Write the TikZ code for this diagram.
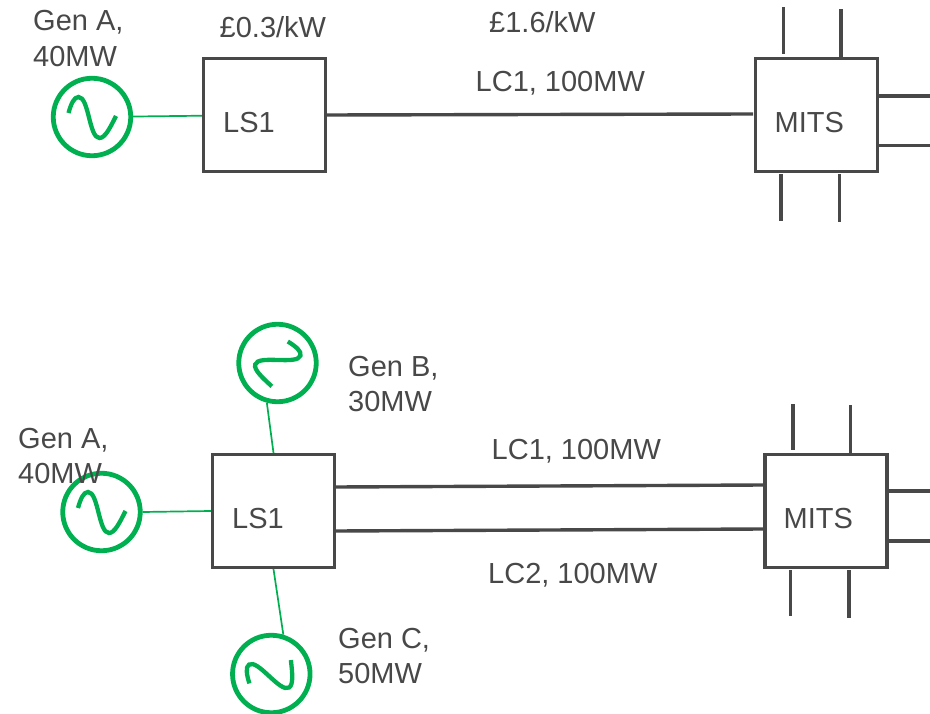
\documentclass[tikz,border=0pt]{standalone}
\usepackage{fontspec}
\usetikzlibrary{calc}
\setmainfont{Liberation Sans}
\definecolor{ink}{HTML}{484848}
\definecolor{gengreen}{HTML}{00B050}
\tikzset{
  x=1pt,y=-1pt,
  lbl/.style={text=ink,inner sep=0pt,anchor=base west,font=\fontsize{29}{35.5}\selectfont},
  lblb/.style={text=ink,inner sep=0pt,anchor=north west,align=left,font=\fontsize{29}{35.5}\selectfont},
  busbox/.style={draw=ink,line width=3.2pt,rectangle,minimum width=122pt,minimum height=113pt,inner sep=0pt},
  gencircle/.style={draw=gengreen,line width=4.8pt,circle,minimum size=77.5pt,inner sep=0pt},
  feeder/.style={draw=gengreen,line width=1.7pt},
  bus/.style={draw=ink,line width=3.4pt},
  sinewave/.pic={
    \draw[gengreen,line width=4.3pt] (-23.5,-4) .. controls (-21,-13) and (-18,-20) .. (-13.5,-20)
      .. controls (-3,-20) and (-3,21) .. (7.5,21)
      .. controls (13,21) and (18,11) .. (24,-1);
  }
}
\begin{document}
\begin{tikzpicture}
\useasboundingbox[fill=white] (0,0) rectangle (930,714);
% top system
\node[gencircle] (ga) at (92,117) {};
\pic at (ga.center) {sinewave};
\node[busbox] (lsa) at (264.5,115) {};
\node[busbox] (ma) at (816.5,115) {};
\draw[feeder] (ga) -- (lsa);
\coordinate (lcaend) at (753,114);
\draw[bus] (lsa.east) -- (lcaend);
\draw[bus] (ma.north) ++(-33,-3) -- ++(0,-47);
\draw[bus] (ma.north) ++(24.5,0) -- ++(0,-48);
\draw[bus] (ma.east) ++(0,-19) -- (930,96);
\draw[bus] (ma.east) ++(0,30.5) -- (930,145.5);
\draw[bus] (ma.south) ++(-35.5,1) -- ++(0,47);
\draw[bus] (ma.south) ++(23,1) -- ++(0,48);
\node[lblb] (tga) at (33,10.5) {Gen A,\\40MW};
\node[lbl] (tpa) at (219.5,38) {£0.3/kW};
\node[lbl] (tpb) at (489,32.5) {£1.6/kW};
\node[lbl] (tlca) at (475.5,91.5) {LC1, 100MW};
\node[lbl] (tlsa) at (223,132.5) {LS1};
\node[lbl] (tma) at (774.5,132.5) {MITS};
% bottom system
\node[gencircle] (gb) at (101.5,512) {};
\pic at (gb.center) {sinewave};
\node[gencircle] (gc) at (277.5,363) {};
\pic[rotate=-106] at (gc.center) {sinewave};
\node[gencircle] (gd) at (271.3,674) {};
\pic[rotate=33] at (gd.center) {sinewave};
\node[busbox] (lsb) at (273.5,511) {};
\node[busbox] (mb) at (826,511) {};
\draw[feeder] (gb.east) -- (lsb.west);
\draw[feeder] (gc.-105) -- (lsb.north);
\draw[feeder] (gd.73) -- (lsb.south);
\draw[bus] (lsb.east) ++(0,-24) -- ($(mb.west)+(0,-26)$);
\draw[bus] (lsb.east) ++(0,20) -- ($(mb.west)+(0,18)$);
\draw[bus] (mb.north) ++(-33,-3) -- ++(0,-46);
\draw[bus] (mb.north) ++(24.5,0) -- ++(0,-48);
\draw[bus] (mb.east) ++(0,-20) -- (930,491);
\draw[bus] (mb.east) ++(0,30) -- (930,541);
\draw[bus] (mb.south) ++(-35.5,1) -- ++(0,46);
\draw[bus] (mb.south) ++(23,1) -- ++(0,48);
\node[lblb] (tgb) at (18,428) {Gen A,\\40MW};
\node[lblb] (tgc) at (348,356) {Gen B,\\30MW};
\node[lblb] (tgd) at (338,628) {Gen C,\\50MW};
\node[lbl] (tlcb) at (491.5,459.5) {LC1, 100MW};
\node[lbl] (tlcc) at (488,583.5) {LC2, 100MW};
\node[lbl] (tlsb) at (232,528) {LS1};
\node[lbl] (tmb) at (783.5,528) {MITS};
\end{tikzpicture}
\end{document}
